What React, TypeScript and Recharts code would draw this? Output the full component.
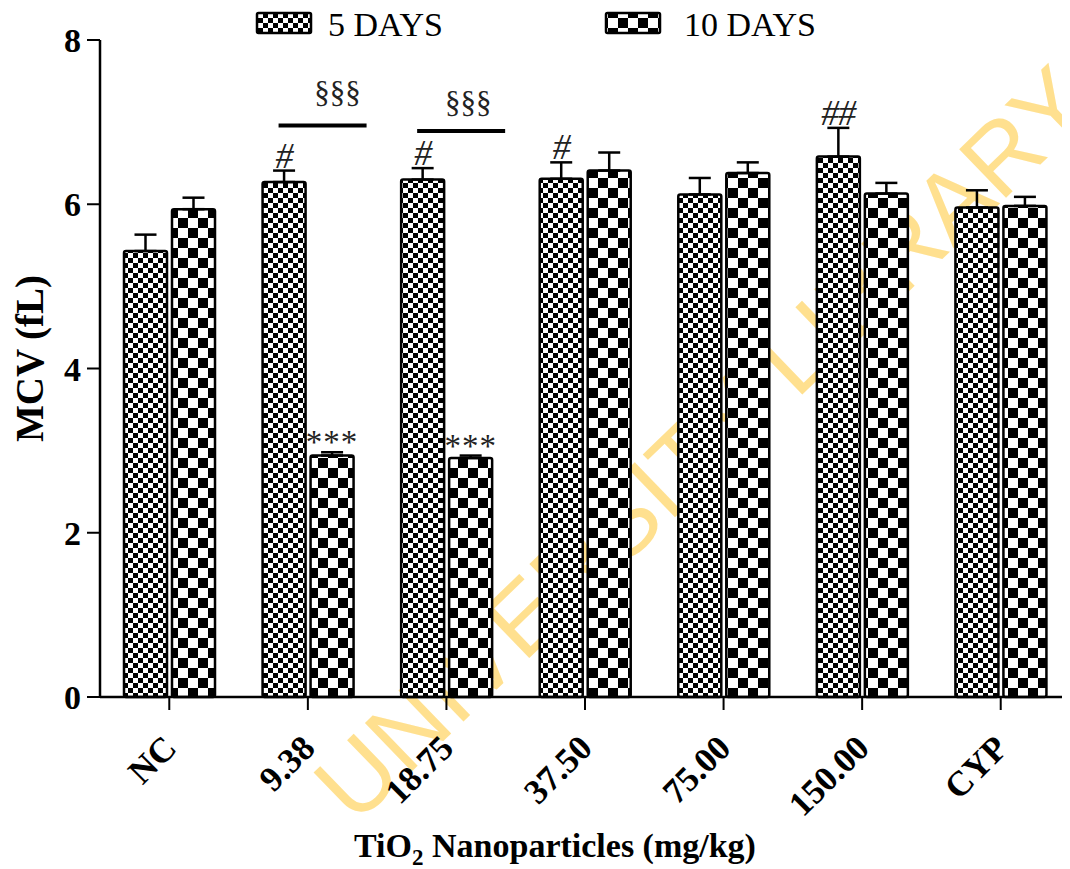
import React from 'react';
import { BarChart, Bar, XAxis, YAxis, ErrorBar, LabelList, Legend } from 'recharts';

// ---- data ----
const categories = ['NC', '9.38', '18.75', '37.50', '75.00', '150.00', 'CYP'];
const days5 = [5.43, 6.27, 6.30, 6.31, 6.12, 6.58, 5.96];
const days5Err = [0.20, 0.14, 0.14, 0.20, 0.20, 0.35, 0.21];
const days10 = [5.94, 2.94, 2.91, 6.41, 6.38, 6.13, 5.98];
const days10Err = [0.14, 0.04, 0.03, 0.22, 0.13, 0.13, 0.11];
const days5Sig = ['', '#', '#', '#', '', '##', ''];
const days10Sig = ['', '***', '***', '', '', '', ''];
const pairSig = ['', '§§§', '§§§', '', '', '', ''];
const yTicks = [0, 2, 4, 6, 8];
const seriesNames = ['5 DAYS', '10 DAYS'];
const xTitle = ['TiO', '2', ' Nanoparticles (mg/kg)'];
const yTitle = 'MCV (fL)';
const watermark = 'UNIVERSITY LIBRARY';

const data = categories.map((c, i) => ({
  cat: c,
  d5: days5[i],
  d10: days10[i],
  e5: [0, days5Err[i]],
  e10: [0, days10Err[i]],
}));

// ---- style ----
const W = 1062;
const H = 861;
const SERIF = '"Liberation Serif", "Times New Roman", Times, serif';
const SANS = '"Liberation Sans", Arial, sans-serif';
const bracketStyle: Record<number, { dy: number; tx: number; ty: number }> = {
  1: { dy: -45, tx: 75, ty: -23 },
  2: { dy: -37, tx: 67, ty: -18 },
};

const getBox = (p: any) => {
  const vb = p.viewBox || {};
  return {
    x: p.x ?? vb.x,
    y: p.y ?? vb.y,
    width: p.width ?? vb.width,
    height: p.height ?? vb.height,
  };
};

const makeAnno = (vals: number[], errs: number[], sigs: string[], withBracket: boolean, isStar: boolean) =>
  (props: any) => {
    const index = props.index;
    if (index == null) return null;
    const { x, y, width, height } = getBox(props);
    const v = vals[index];
    const ppu = height / v;
    const top = y - errs[index] * ppu;
    const cx = x + width / 2;
    const s = sigs[index];
    const els: any[] = [];
    if (s) {
      els.push(
        <text
          key="s"
          x={cx}
          y={isStar ? top + 1 : top - 3}
          textAnchor="middle"
          fontFamily={SERIF}
          fontSize={isStar ? 33 : 36}
          letterSpacing={isStar ? 1 : -1}
          fontStyle={isStar ? 'normal' : 'italic'}
          fill="#222"
        >
          {s}
        </text>
      );
    }
    if (withBracket && pairSig[index]) {
      const st = bracketStyle[index] || { dy: -41, tx: 71, ty: -21 };
      const ly = top + st.dy;
      els.push(
        <line key="l" x1={x + 16} x2={x + 104} y1={ly} y2={ly} stroke="#000" strokeWidth={4} />
      );
      els.push(
        <text key="t" x={x + st.tx} y={ly + st.ty} textAnchor="middle" fontFamily={SERIF} fontSize={31} fill="#222">
          {pairSig[index]}
        </text>
      );
    }
    return <g>{els}</g>;
  };

const XTick = (props: any) => {
  const { x, y, payload } = props;
  const ax = x + 9;
  const ay = y + 38;
  return (
    <text
      x={ax}
      y={ay}
      transform={`rotate(-45 ${ax} ${ay})`}
      textAnchor="end"
      fontFamily={SERIF}
      fontWeight={700}
      fontSize={35}
      fill="#000"
    >
      {payload.value}
    </text>
  );
};

const XLabel = (props: any) => {
  const vb = props.viewBox || { x: 92, y: 689 };
  return (
    <text x={vb.x + 455} y={vb.y + 160} textAnchor="middle" fontFamily={SERIF} fontWeight={700} fontSize={34} fill="#000">
      <tspan>{xTitle[0]}</tspan>
      <tspan fontSize={23} dy={8}>{xTitle[1]}</tspan>
      <tspan dy={-8}>{xTitle[2]}</tspan>
    </text>
  );
};

const YLabel = (props: any) => {
  const vb = props.viewBox || { x: 0, y: 32, height: 657 };
  const cx = vb.x + 35;
  const cy = vb.y + vb.height / 2 - 10;
  return (
    <text x={cx} y={cy} transform={`rotate(-90 ${cx} ${cy})`} textAnchor="middle" fontFamily={SERIF} fontWeight={700} fontSize={39} fill="#000">
      {yTitle}
    </text>
  );
};

const renderLegend = () => (
  <svg width={W} height={32} style={{ display: 'block', overflow: 'visible' }}>
    <rect x={249} y={5} width={54} height={20} fill="url(#pat5)" stroke="#000" strokeWidth={2.5} rx={1.5} />
    <text x={320} y={28} fontFamily={SERIF} fontSize={34} fill="#000">{seriesNames[0]}</text>
    <rect x={598} y={5} width={54} height={20} fill="url(#pat10)" stroke="#000" strokeWidth={2.5} rx={1.5} />
    <text x={676} y={28} fontFamily={SERIF} fontSize={34} fill="#000">{seriesNames[1]}</text>
  </svg>
);

export default function App() {
  return (
    <div style={{ position: 'relative', width: W, height: H }}>
      <svg width={W} height={H} style={{ position: 'absolute', left: 0, top: 0 }}>
        <defs>
          <pattern id="pat5" patternUnits="userSpaceOnUse" width={10} height={10}>
            <rect width={10} height={10} fill="#fff" />
            <rect width={5} height={5} fill="#000" />
            <rect x={5} y={5} width={5} height={5} fill="#000" />
          </pattern>
          <pattern id="pat10" patternUnits="userSpaceOnUse" width={20} height={20}>
            <rect width={20} height={20} fill="#fff" />
            <rect width={10} height={10} fill="#000" />
            <rect x={10} y={10} width={10} height={10} fill="#000" />
          </pattern>
        </defs>
        <text
          x={718}
          y={460}
          transform="rotate(-44 718 460)"
          textAnchor="middle"
          fontFamily={SANS}
          fontSize={98}
          fill="#FFE08F"
        >
          {watermark}
        </text>
      </svg>
      <div style={{ position: 'absolute', left: 0, top: 0 }}>
        <BarChart width={W} height={H} data={data} margin={{ top: 0, right: 0, bottom: 0, left: 0 }} barGap={5}>
          <Legend verticalAlign="top" content={renderLegend} wrapperStyle={{ left: 0, width: W, height: 32 }} />
          <XAxis
            dataKey="cat"
            height={172}
            interval={0}
            tickSize={13}
            axisLine={{ stroke: '#000', strokeWidth: 2.5 }}
            tickLine={{ stroke: '#000', strokeWidth: 2 }}
            tick={<XTick />}
            label={{ content: XLabel } as any}
          />
          <YAxis
            width={92}
            domain={[0, 8]}
            ticks={yTicks}
            tickSize={13}
            tickMargin={6}
            axisLine={{ stroke: '#000', strokeWidth: 2.5 }}
            tickLine={{ stroke: '#000', strokeWidth: 2 }}
            tick={{ fill: '#000', fontSize: 34, fontWeight: 700, fontFamily: SERIF }}
            label={{ content: YLabel } as any}
          />
          <Bar dataKey="d5" name={seriesNames[0]} fill="url(#pat5)" stroke="#000" strokeWidth={2.5} radius={2} barSize={43} isAnimationActive={false}>
            <ErrorBar dataKey="e5" width={11} stroke="#000" strokeWidth={2.5} direction="y" />
            <LabelList dataKey="d5" content={makeAnno(days5, days5Err, days5Sig, true, false)} />
          </Bar>
          <Bar dataKey="d10" name={seriesNames[1]} fill="url(#pat10)" stroke="#000" strokeWidth={2.5} radius={2} barSize={43} isAnimationActive={false}>
            <ErrorBar dataKey="e10" width={11} stroke="#000" strokeWidth={2.5} direction="y" />
            <LabelList dataKey="d10" content={makeAnno(days10, days10Err, days10Sig, false, true)} />
          </Bar>
        </BarChart>
      </div>
    </div>
  );
}
